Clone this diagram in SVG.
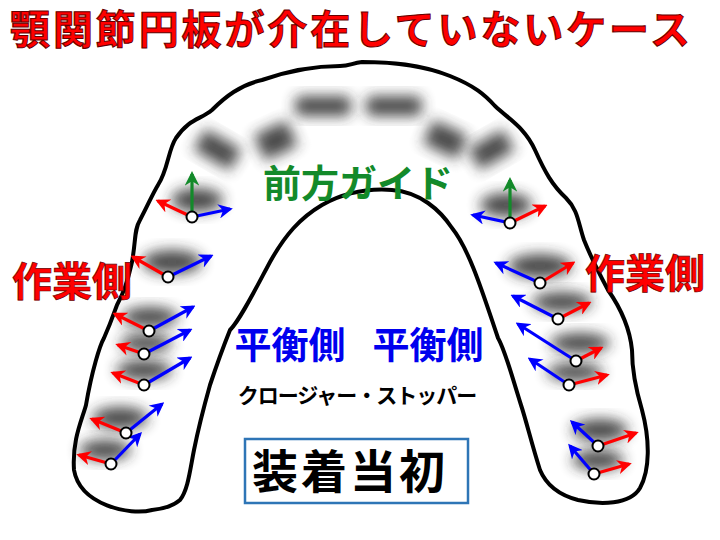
<svg xmlns="http://www.w3.org/2000/svg" width="720" height="540" viewBox="0 0 720 540">
<defs>
<filter id="bl" x="-50%" y="-50%" width="200%" height="200%"><feGaussianBlur stdDeviation="7"/></filter>
<marker id="mr" viewBox="0 0 10 10" refX="8" refY="5" markerWidth="4.5" markerHeight="4.5" orient="auto"><path d="M0,0 L10,5 L0,10 L3,5 Z" fill="#ff0000"/></marker>
<marker id="mb" viewBox="0 0 10 10" refX="8" refY="5" markerWidth="4.5" markerHeight="4.5" orient="auto"><path d="M0,0 L10,5 L0,10 L3,5 Z" fill="#0000ff"/></marker>
<marker id="mg" viewBox="0 0 10 10" refX="8" refY="5" markerWidth="4.5" markerHeight="4.5" orient="auto"><path d="M0,0 L10,5 L0,10 L3,5 Z" fill="#138a2a"/></marker>
</defs>
<style>
.t{font-family:"Liberation Sans","Noto Sans CJK JP",sans-serif;font-weight:bold}
.r{stroke:#ff0000;stroke-width:3.2;fill:none;marker-end:url(#mr)}
.b{stroke:#0000ff;stroke-width:3.2;fill:none;marker-end:url(#mb)}
.g{stroke:#138a2a;stroke-width:3.2;fill:none;marker-end:url(#mg)}
.d{fill:#fff;stroke:#000;stroke-width:2}
.s{fill:#2a2a2a;filter:url(#bl);opacity:0.85}
</style>
<rect width="720" height="540" fill="#fff"/>
<g id="teeth">
<rect class="s" x="295" y="96" width="56" height="20" rx="6"/>
<rect class="s" x="366" y="96" width="56" height="20" rx="6"/>
<rect class="s" x="258" y="126" width="36" height="28" transform="rotate(-25 277 141)"/>
<rect class="s" x="426" y="126" width="38" height="26" transform="rotate(25 444 140)"/>
<rect class="s" x="196" y="138" width="42" height="24" transform="rotate(30 218 151)"/>
<rect class="s" x="472" y="138" width="40" height="24" transform="rotate(-30 491 151)"/>
<ellipse class="s" cx="197" cy="200" rx="26" ry="12"/>
<ellipse class="s" cx="172" cy="262" rx="30" ry="12"/>
<ellipse class="s" cx="150" cy="317" rx="28" ry="10"/>
<ellipse class="s" cx="146" cy="343" rx="26" ry="9"/>
<ellipse class="s" cx="144" cy="370" rx="28" ry="10"/>
<ellipse class="s" cx="120" cy="418" rx="28" ry="11"/>
<ellipse class="s" cx="105" cy="450" rx="26" ry="10"/>
<ellipse class="s" cx="506" cy="205" rx="26" ry="12"/>
<ellipse class="s" cx="540" cy="266" rx="32" ry="12"/>
<ellipse class="s" cx="562" cy="302" rx="30" ry="10"/>
<ellipse class="s" cx="580" cy="343" rx="30" ry="10"/>
<ellipse class="s" cx="575" cy="372" rx="28" ry="9"/>
<ellipse class="s" cx="600" cy="430" rx="28" ry="11"/>
<ellipse class="s" cx="598" cy="460" rx="26" ry="10"/>
</g>
<g id="outline">
<path d="M152,510 C130,516 80,505 74,470 C72,440 82,420 86,405 C92,370 100,345 104,338 C112,320 115,310 117,305 C128,285 130,270 132,262 C136,240 134,230 140,220 C148,205 152,195 158,185 C168,170 168,150 176,138 C190,118 200,120 212,110 C225,97 240,85 262,80 C285,72 310,66 340,66 C350,66 352,63 362,62 C390,62 420,64 450,76 C475,86 485,95 495,106 C510,120 525,128 535,150 C545,172 552,185 566,198 C578,210 578,222 584,240 C592,260 600,275 608,290 C622,310 630,330 632,350 C632,370 636,390 642,410 C650,440 650,470 640,488 C630,505 600,505 578,500 C555,494 545,482 540,470 C532,445 526,420 521,405 C510,370 505,350 498,338 C485,300 470,250 452,228 C440,210 420,192 392,190 C365,188 340,195 322,205 C300,218 285,235 270,262 C255,290 240,320 230,330 C222,350 215,370 210,385 C203,410 198,430 194,450 C190,470 188,490 180,500 C172,507 162,509 152,510 Z" fill="none" stroke="#000" stroke-width="4" stroke-linejoin="round"/>
</g>
<g id="connectors">
<line class="r" x1="192" y1="217" x2="158" y2="201"/><line class="b" x1="192" y1="217" x2="230" y2="209"/><line class="g" x1="192" y1="217" x2="192" y2="174"/>
<line class="r" x1="168" y1="277" x2="133" y2="257"/><line class="b" x1="168" y1="277" x2="211" y2="256"/>
<line class="r" x1="149" y1="331" x2="115" y2="314"/><line class="b" x1="149" y1="331" x2="193" y2="307"/>
<line class="r" x1="144" y1="354" x2="118" y2="345"/><line class="b" x1="144" y1="354" x2="190" y2="330"/>
<line class="r" x1="144" y1="385" x2="113" y2="373"/><line class="b" x1="144" y1="385" x2="190" y2="358"/>
<line class="r" x1="126" y1="433" x2="92" y2="419"/><line class="b" x1="126" y1="433" x2="162" y2="404"/>
<line class="r" x1="111" y1="464" x2="79" y2="455"/><line class="b" x1="111" y1="464" x2="140" y2="434"/>
<line class="b" x1="510" y1="223" x2="473" y2="215"/><line class="r" x1="510" y1="223" x2="545" y2="206"/><line class="g" x1="510" y1="223" x2="510" y2="180"/>
<line class="b" x1="540" y1="283" x2="496" y2="263"/><line class="r" x1="540" y1="283" x2="573" y2="263"/>
<line class="b" x1="558" y1="319" x2="513" y2="296"/><line class="r" x1="558" y1="319" x2="589" y2="303"/>
<line class="b" x1="576" y1="361" x2="518" y2="324"/><line class="r" x1="576" y1="361" x2="601" y2="348"/>
<line class="b" x1="569" y1="385" x2="530" y2="359"/><line class="r" x1="569" y1="385" x2="607" y2="375"/>
<line class="b" x1="598" y1="446" x2="572" y2="422"/><line class="r" x1="598" y1="446" x2="636" y2="433"/>
<line class="b" x1="594" y1="474" x2="570" y2="446"/><line class="r" x1="594" y1="474" x2="629" y2="464"/>
</g>
<g id="dots">
<circle class="d" cx="192" cy="217" r="5.5"/><circle class="d" cx="168" cy="277" r="5.5"/><circle class="d" cx="149" cy="331" r="5.5"/><circle class="d" cx="144" cy="354" r="5.5"/><circle class="d" cx="144" cy="385" r="5.5"/><circle class="d" cx="126" cy="433" r="5.5"/><circle class="d" cx="111" cy="464" r="5.5"/>
<circle class="d" cx="510" cy="223" r="5.5"/><circle class="d" cx="540" cy="283" r="5.5"/><circle class="d" cx="558" cy="319" r="5.5"/><circle class="d" cx="576" cy="361" r="5.5"/><circle class="d" cx="569" cy="385" r="5.5"/><circle class="d" cx="598" cy="446" r="5.5"/><circle class="d" cx="594" cy="474" r="5.5"/>
</g>
<g id="title"><text class="t" x="350" y="44" font-size="40" fill="#ff0000" stroke="#600" stroke-width="1" text-anchor="middle" textLength="680">顎関節円板が介在していないケース</text></g>
<g id="labels">
<text class="t" x="72" y="296" font-size="40" fill="#ff0000" stroke="#600" stroke-width="0.7" text-anchor="middle">作業側</text>
<text class="t" x="645" y="288" font-size="40" fill="#ff0000" stroke="#600" stroke-width="0.7" text-anchor="middle">作業側</text>
<text class="t" x="358" y="197" font-size="38" fill="#138a2a" text-anchor="middle">前方ガイド</text>
<text class="t" x="290" y="359" font-size="37" fill="#0000ee" text-anchor="middle">平衡側</text>
<text class="t" x="428" y="359" font-size="37" fill="#0000ee" text-anchor="middle">平衡側</text>
<text class="t" x="357" y="403" font-size="21" fill="#000" text-anchor="middle" letter-spacing="-1">クロージャー・ストッパー</text>
</g>
<g id="box">
<rect x="245" y="439" width="223" height="64" fill="#fff" stroke="#2e75b6" stroke-width="2.5"/>
<text class="t" x="350" y="488" font-size="46" fill="#000" text-anchor="middle" letter-spacing="3">装着当初</text>
</g>
</svg>
